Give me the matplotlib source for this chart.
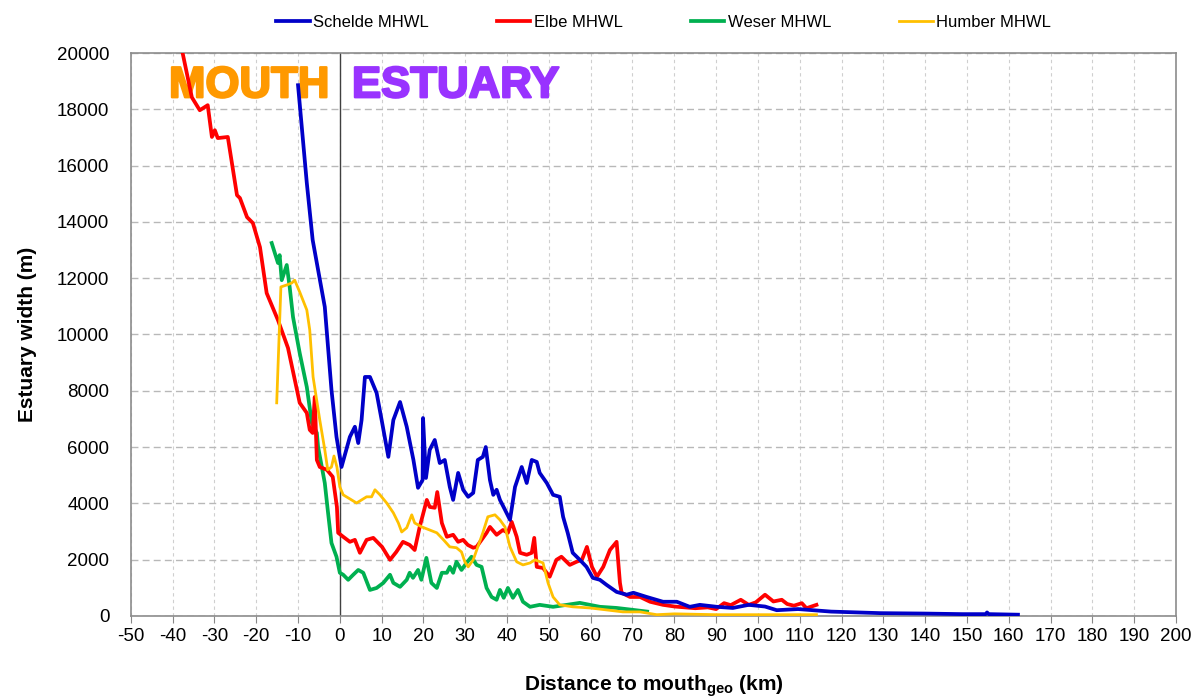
import matplotlib
matplotlib.use('Agg')
import matplotlib.pyplot as plt
import matplotlib.patheffects as pe

plt.rcParams['font.family'] = ['Liberation Sans', 'DejaVu Sans']
plt.rcParams['mathtext.fontset'] = 'custom'
plt.rcParams['mathtext.rm'] = 'Liberation Sans'
plt.rcParams['mathtext.bf'] = 'Liberation Sans:bold'
plt.rcParams['axes.unicode_minus'] = False

# Schelde MHWL
schelde_x = [-10.0, -7.9, -6.5, -3.6, -2.0, -0.8, 0.4, 2.4, 3.6, 4.4, 5.2, 6.0, 7.2, 8.8, 10.0,
             11.6, 12.8, 14.4, 16.0, 17.6, 18.7, 19.8, 19.9, 20.6, 21.5, 22.7, 23.9, 25.1, 26.3,
             27.1, 28.3, 29.5, 30.7, 31.9, 33.0, 34.2, 34.9, 35.9, 36.7, 37.5, 38.3, 39.5, 40.7,
             41.9, 43.5, 44.7, 45.9, 47.1, 47.8, 49.5, 51.0, 52.6, 53.4, 54.5, 55.7, 57.4, 59.0,
             60.5, 62.2, 63.8, 66.2, 68.6, 70.2, 73.4, 77.3, 80.6, 83.7, 86.1, 90.2, 94.0, 97.8,
             101.7, 104.5, 109.6, 117.5, 129.3, 140.0, 148.9, 154.5, 154.8, 155.2, 162.2]
schelde_y = [18860, 15380, 13360, 10980, 8030, 6360, 5290, 6360, 6720, 6140, 6960, 8490, 8490, 7920, 6960,
             5650, 6960, 7600, 6720, 5540, 4550, 4830, 7030, 4900, 5900, 6250, 5430, 5540, 4580,
             4120, 5080, 4480, 4230, 4370, 5540, 5650, 6000, 4830, 4300, 4480, 4120, 3770, 3410,
             4580, 5290, 4720, 5540, 5470, 5080, 4720, 4300, 4230, 3520, 2950, 2240, 1990, 1740,
             1350, 1280, 1100, 850, 750, 820, 670, 500, 500, 320, 390, 320, 280, 390,
             330, 200, 240, 150, 95, 80, 60, 60, 120, 60, 40]

# Elbe MHWL
elbe_x = [-38.0, -37.6, -35.4, -33.5, -31.6, -30.6, -29.9, -29.2, -26.8, -24.6, -23.9, -22.2, -20.8,
          -19.1, -17.5, -14.8, -12.4, -9.6, -7.9, -7.2, -6.5, -6.0, -5.5, -4.8, -3.1, -1.7, -0.7,
          -0.4, 0.8, 2.4, 3.6, 4.8, 6.4, 8.0, 10.1, 12.0, 13.5, 15.1, 16.7, 17.9, 19.1, 20.8, 21.5,
          22.7, 23.3, 24.4, 25.6, 27.1, 28.3, 29.5, 30.6, 31.9, 32.7, 33.9, 35.1, 35.9, 37.5, 39.0,
          40.2, 41.1, 42.3, 43.1, 44.7, 45.9, 46.5, 47.1, 48.6, 50.2, 51.8, 53.0, 55.0, 56.6, 57.9,
          59.1, 60.3, 61.5, 63.0, 64.6, 66.2, 67.0, 67.4, 69.4, 71.8, 74.2, 77.3, 80.1, 85.0, 88.0,
          90.0, 91.9, 93.5, 95.9, 97.8, 99.5, 101.7, 103.7, 105.7, 107.0, 108.6, 110.5, 111.6, 114.0]
elbe_y = [20300, 20000, 18430, 17970, 18150, 17020, 17260, 16980, 17020, 14950, 14850, 14170, 13960,
          13100, 11470, 10510, 9520, 7570, 7210, 6610, 6500, 7780, 5540, 5290, 5190, 4940, 3870,
          2950, 2810, 2630, 2700, 2240, 2700, 2770, 2450, 1990, 2270, 2630, 2520, 2340, 3160, 4120, 3870,
          3840, 4400, 3300, 2810, 2880, 2630, 2700, 2520, 2420, 2450, 2700, 2950, 3160, 2880, 3050,
          2950, 3340, 2810, 2240, 2170, 2240, 2770, 1740, 1700, 1390, 1990, 2100, 1810, 1920, 1990,
          2450, 1740, 1390, 1740, 2340, 2630, 1170, 820, 670, 670, 500, 390, 330, 270, 300,
          240, 450, 380, 570, 390, 480, 750, 510, 570, 420, 360, 450, 270, 390]

# Weser MHWL
weser_x = [-16.3, -14.8, -14.4, -13.9, -12.7, -12.0, -11.2, -9.6, -7.9, -6.7, -5.5, -5.2, -3.6, -2.9,
           -2.0, -0.8, 0.0, 0.8, 2.0, 3.2, 4.4, 5.6, 7.2, 8.8, 10.4, 12.0, 12.8, 14.4, 16.0, 16.7,
           17.5, 18.7, 19.5, 20.7, 21.9, 23.2, 24.4, 25.6, 26.3, 27.1, 27.9, 29.1, 30.3, 31.5, 32.7,
           33.9, 35.1, 36.3, 37.5, 38.3, 39.2, 40.2, 41.4, 42.6, 43.8, 45.5, 47.8, 51.0, 54.3, 57.4,
           59.8, 62.2, 66.2, 70.2, 73.5]
weser_y = [13250, 12540, 12820, 11930, 12470, 11690, 10620, 9340, 8130, 6860, 6500, 6000, 4720, 3770,
           2590, 2100, 1530, 1460, 1280, 1460, 1630, 1530, 920, 990, 1170, 1460, 1170, 1030, 1280, 1530,
           1350, 1630, 1280, 2060, 1170, 990, 1530, 1530, 1740, 1530, 1920, 1630, 1880, 2100, 1810,
           1740, 990, 670, 570, 920, 640, 990, 640, 920, 500, 320, 390, 320, 390, 460,
           390, 320, 280, 210, 150]

# Humber MHWL
humber_x = [-15.1, -14.1, -12.7, -11.5, -10.8, -9.6, -7.9, -7.2, -6.4, -4.8, -3.6, -2.9, -2.0, -1.4,
            -0.7, 0.0, 0.8, 2.8, 4.0, 5.2, 6.4, 7.6, 8.4, 9.6, 11.2, 12.8, 14.0, 14.8, 16.0, 17.2,
            17.9, 19.6, 21.5, 23.2, 24.8, 26.3, 27.9, 29.1, 29.9, 30.7, 31.9, 33.0, 34.2, 35.4, 37.1,
            38.3, 39.5, 40.7, 42.3, 43.8, 45.5, 46.7, 48.6, 49.8, 51.0, 52.6, 55.7, 59.8, 63.8, 67.7,
            71.8, 75.8, 80.0, 90.0, 114.0]
humber_y = [7570, 11690, 11760, 11830, 11930, 11510, 10870, 10160, 8490, 6960, 5900, 5190, 5290, 5680,
            5290, 4580, 4300, 4120, 4010, 4120, 4230, 4230, 4480, 4300, 4010, 3660, 3300, 2980, 3130, 3590,
            3300, 3160, 3050, 2950, 2700, 2450, 2420, 2270, 1920, 1740, 1990, 2450, 2950, 3520, 3590,
            3410, 3160, 2450, 1920, 1810, 1880, 1990, 1880, 1170, 670, 390, 320, 280, 210, 140,
            140, 40, 70, 40, 40]

x_ticks = list(range(-50, 201, 10))
y_ticks = list(range(0, 20001, 2000))

fig = plt.figure(figsize=(12, 6.99), dpi=100)
ax = fig.add_axes([0.109, 0.119, 0.871, 0.805])

ax.plot(schelde_x, schelde_y, color='#0000C8', lw=2.7, label='Schelde MHWL', zorder=5)
ax.plot(elbe_x, elbe_y, color='#FF0000', lw=2.7, label='Elbe MHWL', zorder=4)
ax.plot(weser_x, weser_y, color='#00B050', lw=2.7, label='Weser MHWL', zorder=3)
ax.plot(humber_x, humber_y, color='#FFC000', lw=2.0, label='Humber MHWL', zorder=6)

ax.set_xlim(-50, 200)
ax.set_ylim(0, 20000)
ax.set_xticks(x_ticks)
ax.set_yticks(y_ticks)
ax.tick_params(axis='x', labelsize=13.5, length=5, color='#888888', pad=4)
ax.tick_params(axis='y', labelsize=13.5, left=False, pad=12)

ax.yaxis.grid(True, ls=(0, (5, 3)), color='#b8b8b8', lw=1.0)
ax.xaxis.grid(True, ls=(0, (3, 3)), color='#cfcfcf', lw=0.8)
ax.set_axisbelow(True)
for s in ax.spines.values():
    s.set_color('#8c8c8c')
    s.set_linewidth(1.2)

# vertical axis crossing at x = 0
ax.axvline(0, color='#404040', lw=1.0, zorder=2)

heavy = [pe.withStroke(linewidth=1.6, foreground='#FF9900')]
ax.text(-2.5, 18430, 'MOUTH', color='#FF9900', fontsize=31.5, fontweight='bold',
        ha='right', va='baseline', path_effects=heavy)
heavy = [pe.withStroke(linewidth=1.6, foreground='#9933FF')]
ax.text(2.9, 18430, 'ESTUARY', color='#9933FF', fontsize=31.5, fontweight='bold',
        ha='left', va='baseline', path_effects=heavy)

ax.set_ylabel('Estuary width (m)', fontsize=15, fontweight='bold', labelpad=14)
ax.set_xlabel(r'Distance to mouth$_{\mathbf{geo}}$ (km)', fontsize=15, fontweight='bold', labelpad=20)

fig.legend(loc='upper center', bbox_to_anchor=(0.553, 1.0), ncol=4, frameon=False,
           fontsize=12, handlelength=2.0, handletextpad=0.2, columnspacing=4.1)

fig.savefig('out.png', dpi=100)
